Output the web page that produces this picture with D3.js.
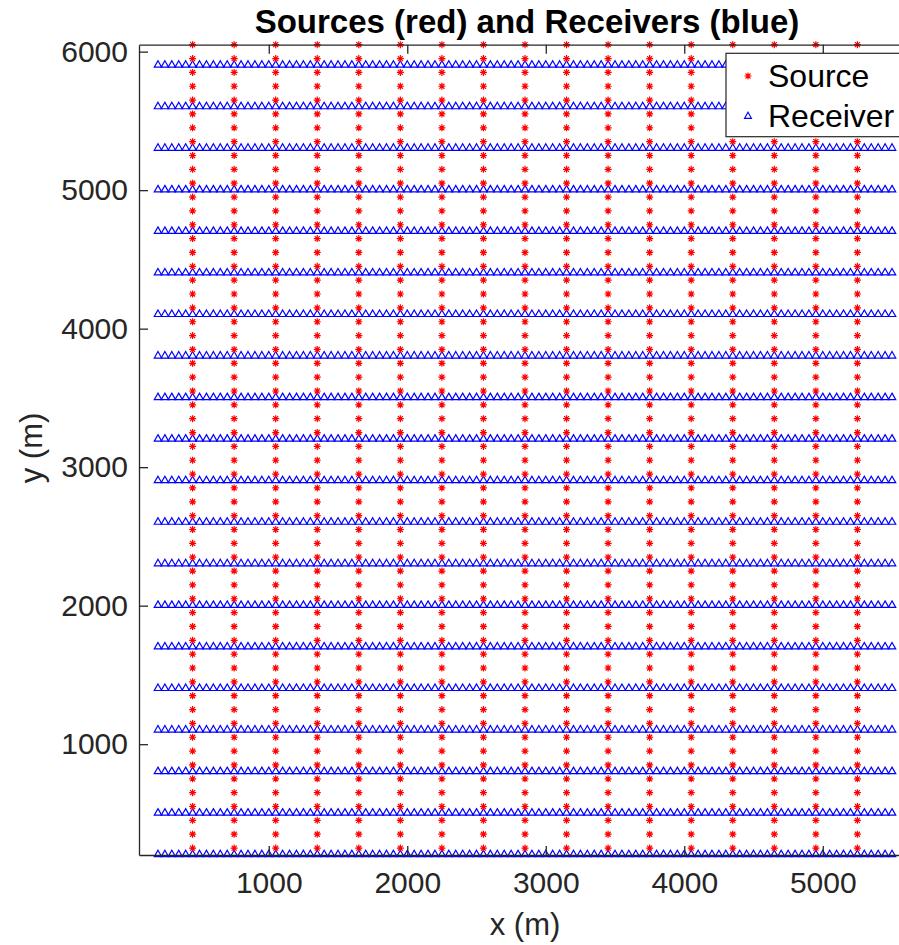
<!DOCTYPE html>
<html>
<head>
<meta charset="utf-8">
<title>Sources and Receivers</title>
<style>
  body { margin: 0; background: #fff; }
  svg text { font-family: "Liberation Sans", Arial, Helvetica, sans-serif; fill: #262626; }
</style>
</head>
<body>
<div id="chart"></div>
<script src="https://d3js.org/d3.v7.min.js"></script>
<script>

// source columns (m)
const sourceX = [450, 750, 1050, 1350, 1650, 1950, 2250, 2550, 2850, 3150, 3450, 3750, 4050, 4350, 4650, 4950, 5250];
// source stations along each column (m)
const sourceY = [250, 350, 450, 550, 650, 750, 850, 950, 1050, 1150, 1250, 1350, 1450, 1550, 1650, 1750,
  1850, 1950, 2050, 2150, 2250, 2350, 2450, 2550, 2650, 2750, 2850, 2950, 3050, 3150, 3250, 3350,
  3450, 3550, 3650, 3750, 3850, 3950, 4050, 4150, 4250, 4350, 4450, 4550, 4650, 4750, 4850, 4950,
  5050, 5150, 5250, 5350, 5450, 5550, 5650, 5750, 5850, 5950, 6050];

// receiver stations along each line (m)
const receiverX = [200, 250, 300, 350, 400, 450, 500, 550, 600, 650, 700, 750, 800, 850, 900, 950,
  1000, 1050, 1100, 1150, 1200, 1250, 1300, 1350, 1400, 1450, 1500, 1550, 1600, 1650, 1700, 1750, 1800, 1850, 1900, 1950,
  2000, 2050, 2100, 2150, 2200, 2250, 2300, 2350, 2400, 2450, 2500, 2550, 2600, 2650, 2700, 2750, 2800, 2850, 2900, 2950,
  3000, 3050, 3100, 3150, 3200, 3250, 3300, 3350, 3400, 3450, 3500, 3550, 3600, 3650, 3700, 3750, 3800, 3850, 3900, 3950,
  4000, 4050, 4100, 4150, 4200, 4250, 4300, 4350, 4400, 4450, 4500, 4550, 4600, 4650, 4700, 4750, 4800, 4850, 4900, 4950,
  5000, 5050, 5100, 5150, 5200, 5250, 5300, 5350, 5400, 5450, 5500];
// receiver lines (m)
const receiverY = [200, 500, 800, 1100, 1400, 1700, 2000, 2300, 2600, 2900, 3200, 3500, 3800, 4100, 4400, 4700, 5000, 5300, 5600, 5900];

const xTicks = [1000, 2000, 3000, 4000, 5000];
const yTicks = [1000, 2000, 3000, 4000, 5000, 6000];

const width = 899;
const height = 945;
const axisColor = '#262626';

const svg = d3.select('#chart')
  .append('svg')
  .attr('width', width)
  .attr('height', height);

// equal aspect, box runs off the right edge
const x = d3.scaleLinear().domain([63, 5637]).range([139, 911]);
const y = d3.scaleLinear().domain([200, 6050]).range([855, 44.7]);

// build point lists from the arrays
var sources = [];
sourceX.forEach(sx => sourceY.forEach(sy => sources.push([sx, sy])));
var receivers = [];
receiverY.forEach(ry => receiverX.forEach(rx => receivers.push([rx, ry])));

// receivers (blue triangles)
const tri = 'M0,-4.8L3.7,1.7L-3.7,1.7Z';
svg.append('g')
  .selectAll('path')
  .data(receivers)
  .enter()
  .append('path')
  .attr('d', tri)
  .attr('transform', d => `translate(${x(d[0])},${y(d[1])})`)
  .attr('fill', 'none')
  .attr('stroke', '#0000ff')
  .attr('stroke-width', 1.2);

// sources (red asterisks)
const star = 'M-3.5,0H3.5M0,-3.5V3.5M-2.5,-2.5L2.5,2.5M-2.5,2.5L2.5,-2.5';
svg.append('g')
  .selectAll('path')
  .data(sources)
  .enter()
  .append('path')
  .attr('d', star)
  .attr('transform', d => `translate(${x(d[0])},${y(d[1])})`)
  .attr('fill', 'none')
  .attr('stroke', '#ff0000')
  .attr('stroke-width', 1.2);

// axes, ticks pointing inward
const fmt = d3.format('d');
const gX = svg.append('g')
  .attr('transform', `translate(0, ${y.range()[0]})`)
  .call(d3.axisBottom(x).tickValues(xTicks).tickFormat(fmt).tickSizeInner(-9).tickSizeOuter(0).tickPadding(17));
const gXTop = svg.append('g')
  .attr('transform', `translate(0, ${y.range()[1]})`)
  .call(d3.axisTop(x).tickValues(xTicks).tickSizeInner(-9).tickSizeOuter(0).tickFormat(''));
const gY = svg.append('g')
  .attr('transform', `translate(${x.range()[0]}, 0)`)
  .call(d3.axisLeft(y).tickValues(yTicks).tickFormat(fmt).tickSizeInner(-9).tickSizeOuter(0).tickPadding(11));

[gX, gXTop, gY].forEach(g => {
  g.select('.domain').attr('stroke', axisColor).attr('stroke-width', 1.3);
  g.selectAll('.tick line').attr('stroke', axisColor).attr('stroke-width', 1.3);
  g.selectAll('.tick text')
    .style('font-size', '30px')
    .style('font-family', '"Liberation Sans", Arial, Helvetica, sans-serif')
    .attr('fill', axisColor);
});

// title and axis labels
svg.append('text')
  .attr('x', 527)
  .attr('y', 33)
  .attr('text-anchor', 'middle')
  .style('font-size', '33px')
  .style('font-weight', 'bold')
  .style('fill', '#000')
  .text('Sources (red) and Receivers (blue)');

svg.append('text')
  .attr('x', 525)
  .attr('y', 935)
  .attr('text-anchor', 'middle')
  .style('font-size', '31px')
  .text('x (m)');

svg.append('text')
  .attr('transform', 'translate(42, 448) rotate(-90)')
  .attr('text-anchor', 'middle')
  .style('font-size', '31px')
  .text('y (m)');

// legend
const legend = svg.append('g');
legend.append('rect')
  .attr('x', 726)
  .attr('y', 53.3)
  .attr('width', 200)
  .attr('height', 83.4)
  .attr('fill', '#fff')
  .attr('stroke', axisColor)
  .attr('stroke-width', 1.2);

const legendItems = [
  {label: 'Source', y: 76, d: star, color: '#ff0000'},
  {label: 'Receiver', y: 116, d: 'M0,-3.8L3.5,2.4L-3.5,2.4Z', color: '#0000ff'}
];
legendItems.forEach(item => {
  legend.append('path')
    .attr('d', item.d)
    .attr('transform', `translate(748, ${item.y})`)
    .attr('fill', 'none')
    .attr('stroke', item.color)
    .attr('stroke-width', 1.1);
  legend.append('text')
    .attr('x', 768)
    .attr('y', item.y + 11)
    .style('font-size', '32px')
    .style('fill', '#000')
    .text(item.label);
});

</script>
</body>
</html>
